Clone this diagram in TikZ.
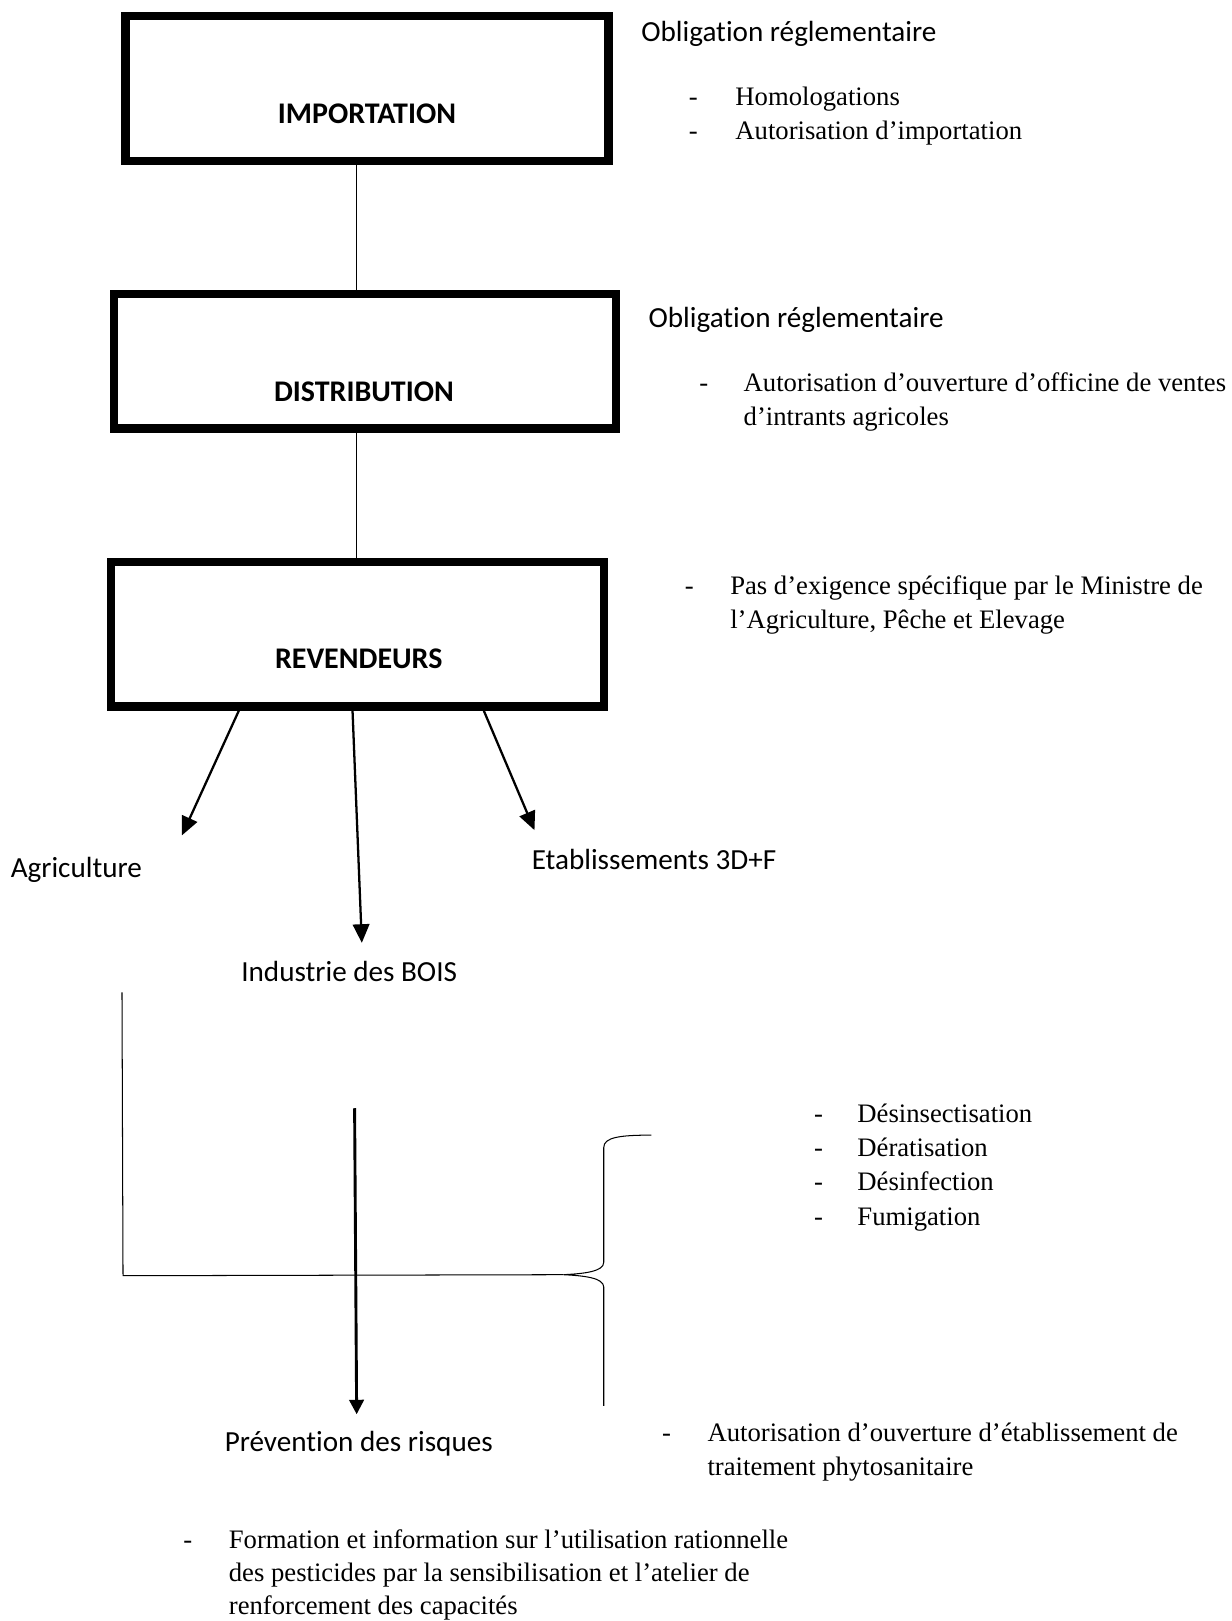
\documentclass[tikz,border=0pt]{standalone}
\usepackage{fontspec}
\setmainfont{Liberation Serif}
\newfontfamily\calfont[Ligatures=NoCommon]{Carlito}
\usetikzlibrary{arrows.meta}
\newcommand\sansf{\calfont\fontsize{14.1}{17}\selectfont}
\newcommand\boldf{\calfont\bfseries\fontsize{14.5}{17}\selectfont}
\newcommand\serf{\fontsize{12.9}{16.5}\selectfont}
\newcommand\serfb{\fontsize{12.9}{16}\selectfont}
\begin{document}
\begin{tikzpicture}[x=0.5pt,y=-0.5pt,
  box/.style={draw,line width=4pt,inner sep=0pt},
  stxt/.style={font=\sansf,inner sep=0pt,anchor=base west},
  btxt/.style={font=\boldf,inner sep=0pt,anchor=base},
  ltxt/.style={font=\serf,inner sep=0pt,anchor=base west},
  thinln/.style={line width=0.5pt},
  arr/.style={line width=1.1pt,-{Triangle[length=9pt,width=8pt]}}]
\path[use as bounding box] (0,0) rectangle (1191,1568);
% boxes
\node[box,minimum width=233.5pt,minimum height=70pt] (imp) at (355,85.5) {};
\node[btxt] (impt) at (355,119) {IMPORTATION};
\node[box,minimum width=242.5pt,minimum height=65pt] (dist) at (353,349.5) {};
\node[btxt] (distt) at (352,388) {DISTRIBUTION};
\node[box,minimum width=238.5pt,minimum height=70pt] (rev) at (346,613.5) {};
\node[btxt] (revt) at (347,647) {REVENDEURS};
% connectors between boxes
\coordinate (ax) at (345,0);
\draw[thinln] (imp.south -| ax) -- (dist.north -| ax);
\draw[thinln] (dist.south -| ax) -- (rev.north -| ax);
% arrows from revendeurs
\coordinate (s1) at (231,0);
\coordinate (s2) at (341,0);
\coordinate (s3) at (468,0);
\coordinate (t1) at (176,808);
\coordinate (t2) at (350,912);
\coordinate (t3) at (517,803);
\draw[arr] (rev.south -| s1) -- (t1);
\draw[arr] (rev.south -| s2) -- (t2);
\draw[arr] (rev.south -| s3) -- (t3);
% sans labels
\node[stxt] (ob1) at (620,40) {Obligation réglementaire};
\node[stxt] (ob2) at (627,317) {Obligation réglementaire};
\node[stxt] (agri) at (10,849) {Agriculture};
\node[stxt] (etab) at (514,841) {Etablissements 3D+F};
\node[stxt] (bois) at (233,949) {Industrie des BOIS};
\node[stxt] (prev) at (217,1404) {Prévention des risques};
% serif lists
\node[ltxt] (l1) at (666,102) {\begin{tabular}[t]{@{}p{22.5pt}@{}l@{}}-&Homologations\\-&Autorisation d’importation\end{tabular}};
\node[ltxt] (l2) at (676,379) {\begin{tabular}[t]{@{}p{21.5pt}@{}l@{}}-&Autorisation d’ouverture d’officine de ventes\\&d’intrants agricoles\end{tabular}};
\node[ltxt] (l3) at (662,575) {\begin{tabular}[t]{@{}p{22pt}@{}l@{}}-&Pas d’exigence spécifique par le Ministre de\\&l’Agriculture, Pêche et Elevage\end{tabular}};
\node[ltxt] (l4) at (787,1086) {\begin{tabular}[t]{@{}p{21pt}@{}l@{}}-&Désinsectisation\\-&Dératisation\\-&Désinfection\\-&Fumigation\end{tabular}};
\node[ltxt] (l5) at (640,1394) {\begin{tabular}[t]{@{}p{22pt}@{}l@{}}-&Autorisation d’ouverture d’établissement de\\&traitement phytosanitaire\end{tabular}};
\node[ltxt,font=\serfb] (l6) at (177,1498) {\begin{tabular}[t]{@{}p{22pt}@{}l@{}}-&Formation et information sur l’utilisation rationnelle\\&des pesticides par la sensibilisation et l’atelier de\\&renforcement des capacités\end{tabular}};
% L-shape and brace
\coordinate (lt) at (118,960);
\coordinate (lb) at (119,1234);
\coordinate (bt) at (545,1233);
\coordinate (bs) at (630,1098);
\coordinate (be) at (584,1360);
\draw[thinln] (lt) -- (lb) -- (bt);
\draw[thinln] (bs) .. controls (600,1098) and (584,1100) .. (584,1110) -- (584,1221)
  .. controls (584,1230) and (565,1232) .. (bt)
  .. controls (565,1234) and (584,1236) .. (584,1245) -- (be);
% vertical arrow
\coordinate (vs) at (343,1072);
\coordinate (ve) at (345,1368);
\draw[arr,line width=1.4pt,-{Triangle[length=7pt,width=7pt]}] (vs) -- (ve);
\end{tikzpicture}
\end{document}
